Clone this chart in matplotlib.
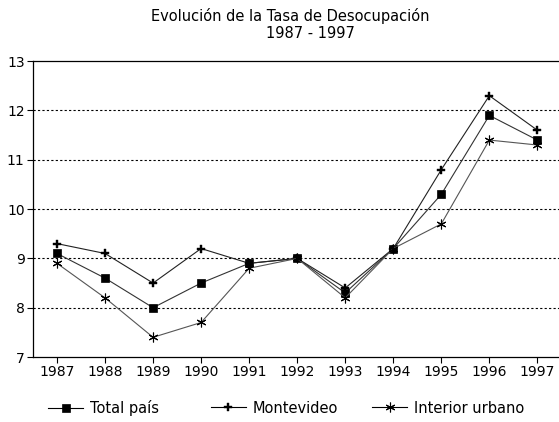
import matplotlib.pyplot as plt
from matplotlib.lines import Line2D

plt.rcParams['font.family'] = ['DejaVu Sans']

years = [1987, 1988, 1989, 1990, 1991, 1992, 1993, 1994, 1995, 1996, 1997]
total_pais = [9.1, 8.6, 8.0, 8.5, 8.9, 9.0, 8.3, 9.2, 10.3, 11.9, 11.4]
montevideo = [9.3, 9.1, 8.5, 9.2, 8.9, 9.0, 8.4, 9.2, 10.8, 12.3, 11.6]
interior = [8.9, 8.2, 7.4, 7.7, 8.8, 9.0, 8.2, 9.2, 9.7, 11.4, 11.3]
y_ticks = [7, 8, 9, 10, 11, 12, 13]
series_names = ['Total país', 'Montevideo', 'Interior urbano']

fig = plt.figure(figsize=(5.59, 4.22), dpi=100)
ax = fig.add_axes([0.059, 0.154, 0.941, 0.701])

styles = [
    dict(color='#333333', marker='s', ms=6, mew=0.5),
    dict(color='#222222', marker='P', ms=6, mew=0.3),
    dict(color='#555555', marker=(6, 2, 0), ms=7, mew=0.8),
]
for vals, name, st in zip([total_pais, montevideo, interior], series_names, styles):
    ax.plot(years, vals, lw=0.8, mfc='black', mec='black', label=name, **st)

ax.set_xlim(1986.5, 1997.45)
ax.set_ylim(7, 13)
ax.set_xticks(years)
ax.set_yticks(y_ticks)
ax.tick_params(labelsize=10, length=4, width=0.8, direction='out', pad=2)
for y in y_ticks[1:-1]:
    ax.axhline(y, color='black', lw=0.8, ls=(0, (2, 2)), zorder=0)

ax.spines['right'].set_visible(False)
for s in ['left', 'top', 'bottom']:
    ax.spines[s].set_linewidth(0.9)

fig.text(0.519, 0.962, 'Evolución de la Tasa de Desocupación', ha='center',
         va='center', fontsize=10.5)
fig.text(0.556, 0.921, '1987 - 1997', ha='center', va='center', fontsize=10.5)

# one legend per entry, placed like the original
# (fig.legend already adds each one to the figure)
legend_x = [48, 211, 372]
for x, name, st in zip(legend_x, series_names, styles):
    h = Line2D([], [], lw=0.8, mfc='black', mec='black',
               **{**st, 'color': 'black'})
    fig.legend([h], [name], loc='center left',
               bbox_to_anchor=(x / 559, 0.033), frameon=False,
               fontsize=10.5, handlelength=2.4, handletextpad=0.45,
               borderpad=0, borderaxespad=0)

fig.savefig('out.png', dpi=100)
